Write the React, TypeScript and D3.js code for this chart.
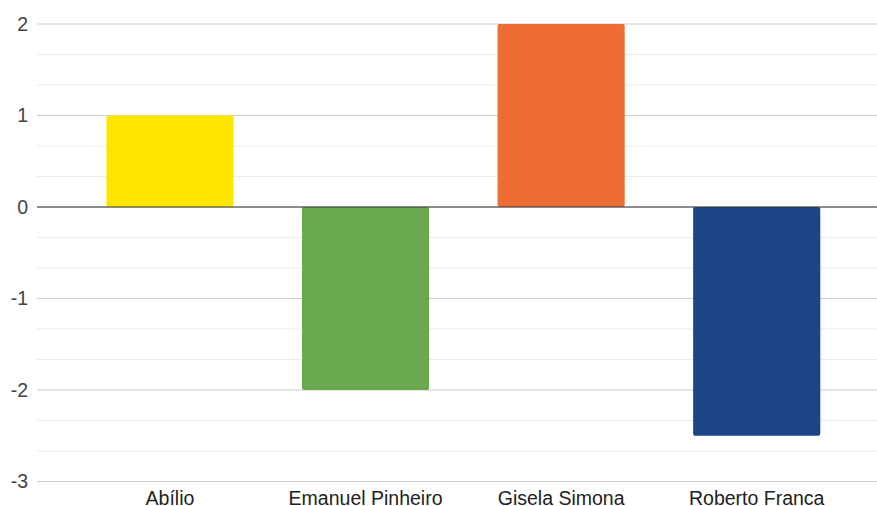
import React from "react";
import * as d3 from "d3";

const categories = ["Abílio", "Emanuel Pinheiro", "Gisela Simona", "Roberto Franca"];
const values = [1, -2, 2, -2.5];
const colors = ["#FFE500", "#6AA84F", "#ED6D35", "#1C4587"];
const yTicks = [2, 1, 0, -1, -2, -3];

const W = 877;
const H = 506;

export default function App() {
  const x = d3.scaleBand<string>().domain(categories).range([72.2, 854.5]).paddingInner(0.35).paddingOuter(0.175);
  const y = d3.scaleLinear().domain([-3, 2]).range([481.5, 24]);
  const minor: number[] = [];
  for (let i = -3; i < 2; i++) {
    minor.push(i + 1 / 3, i + 2 / 3);
  }
  const fontFamily = "'Liberation Sans', Arial, sans-serif";
  return (
    <svg width={W} height={H} style={{ position: "absolute", left: 0, top: 0, display: "block" }}>
      <rect x={0} y={0} width={W} height={H} fill="#fff" />
      {minor.map((v, i) => (
        <line key={"m" + i} x1={37} x2={W} y1={y(v)} y2={y(v)} stroke="#ebebeb" strokeWidth={1} />
      ))}
      {yTicks.map((v) => (
        <line key={"g" + v} x1={37} x2={W} y1={y(v)} y2={y(v)} stroke="#cccccc" strokeWidth={1} />
      ))}
      {categories.map((c, i) => {
        const v = values[i];
        const top = Math.min(y(v), y(0));
        const h = Math.abs(y(v) - y(0));
        return <rect key={c} x={x(c)} y={top} width={x.bandwidth()} height={h} rx={2} ry={2} fill={colors[i]} />;
      })}
      <line x1={37} x2={W} y1={y(0)} y2={y(0)} stroke="#333" strokeWidth={1} />
      {yTicks.map((v) => (
        <text key={"t" + v} x={28} y={y(v)} dy="0.35em" textAnchor="end" fontSize={19.5} fontFamily={fontFamily} fill="#444">
          {v}
        </text>
      ))}
      {categories.map((c) => (
        <text key={"l" + c} x={(x(c) as number) + x.bandwidth() / 2} y={505} textAnchor="middle" fontSize={19.5} fontFamily={fontFamily} fill="#222">
          {c}
        </text>
      ))}
    </svg>
  );
}
